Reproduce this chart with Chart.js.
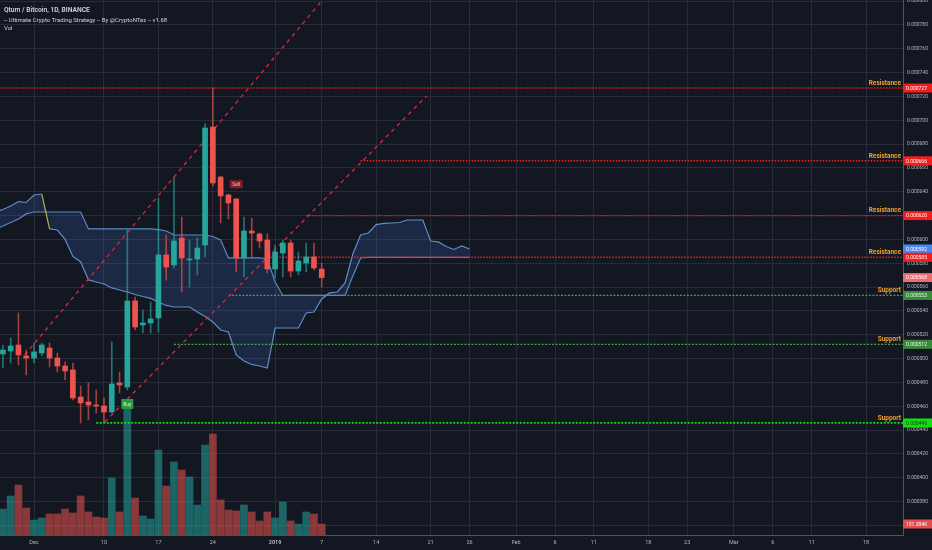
<!DOCTYPE html>
<html>
<head>
<meta charset="utf-8">
<title>Qtum / Bitcoin, 1D, BINANCE</title>
<script src="https://cdn.jsdelivr.net/npm/chart.js@4.4.1/dist/chart.umd.min.js"></script>
<style>
  html, body { margin: 0; padding: 0; background: #131722; overflow: hidden; }
  canvas { display: block; }
</style>
</head>
<body>
<canvas id="chart" width="932" height="550"></canvas>
<script>
// QTUM/BTC daily candles, day 0 = 2018-11-27. Prices are in 1e-6 BTC.
const candleDays = [0, 1, 2, 3, 4, 5, 6, 7, 8, 9, 10, 11, 12, 13, 14, 15, 16, 17, 18, 19, 20,
  21, 22, 23, 24, 25, 26, 27, 28, 29, 30, 31, 32, 33, 34, 35, 36, 37, 38, 39, 40, 41];
const openP = [503.9, 506.4, 511.4, 502.2, 500.5, 504.7, 508.9, 500.5, 493.8, 490.5, 467.8, 463.6, 461.1, 460.3,
  455.2, 479.6, 476.2, 548.4, 528.2, 529.9, 534.1, 587.0, 578.6, 601.2, 582.8, 583.6, 595.3, 694.3, 652.4, 637.3,
  633.9, 584.4, 607.1, 604.6, 599.5, 575.2, 588.6, 597.0, 573.5, 580.2, 585.3, 575.2];
const highP = [511.4, 517.3, 538.3, 507.2, 513.1, 513.1, 513.1, 504.7, 497.2, 496.3, 477.0, 479.6, 473.7, 467.0,
  514.0, 488.8, 607.9, 551.7, 540.8, 547.5, 634.8, 603.7, 652.4, 618.8, 599.5, 601.2, 696.9, 727.0, 653.0, 638.0,
  634.5, 618.8, 618.0, 605.4, 604.6, 595.3, 599.5, 599.5, 589.5, 597.0, 597.0, 580.2];
const lowP = [492.1, 496.3, 494.7, 486.3, 496.3, 502.2, 493.0, 488.8, 482.1, 465.3, 446.0, 448.5, 454.4, 446.8,
  454.4, 471.2, 473.7, 524.0, 521.5, 521.5, 522.3, 566.0, 576.0, 555.9, 560.1, 570.2, 585.3, 645.0, 613.8, 617.2,
  572.7, 568.5, 585.3, 592.8, 571.9, 567.7, 568.5, 568.5, 570.2, 572.7, 574.4, 560.1];
const closeP = [507.2, 510.6, 503.1, 500.5, 505.6, 511.4, 500.5, 493.8, 489.6, 467.0, 462.8, 461.1, 460.3, 455.2,
  478.7, 477.9, 548.4, 526.5, 529.9, 533.3, 587.0, 576.9, 598.7, 584.4, 583.6, 592.8, 693.5, 647.4, 636.5, 630.6,
  584.4, 607.1, 605.4, 598.7, 575.2, 589.5, 597.0, 573.5, 581.9, 585.3, 576.0, 568.0];
// volume in thousands
const volumeK = [310, 466, 597, 322, 179, 203, 251, 251, 310, 263, 466, 275, 215, 203, 681, 275, 1552, 442, 227,
  191, 1015, 585, 872, 776, 693, 358, 1075, 1206, 418, 299, 287, 358, 275, 167, 275, 203, 394, 167, 131, 275, 251,
  131.384];

// Ichimoku cloud (already shifted forward)
const cloudDays = [-1, 0, 1, 2, 3, 4, 5, 6, 7, 8, 9, 10, 11, 12, 13, 14, 15, 16, 17, 18, 19, 20, 21, 22, 23, 24,
  25, 26, 27, 28, 29, 30, 31, 32, 33, 34, 35, 36, 37, 38, 39, 40, 41, 42, 43, 44, 45, 46, 47, 48, 49, 50, 51, 52,
  53, 54, 55, 56, 57, 58, 59, 60];
const spanA = [623.0, 625.1, 628.1, 631.8, 631.0, 637.3, 638.1, 608.8, 607.9, 600.0, 585.7, 581.1, 566.0, 564.3,
  562.6, 559.3, 557.6, 555.9, 553.8, 552.1, 550.5, 547.5, 544.6, 543.3, 543.3, 543.3, 539.1, 535.4, 530.7, 524.0,
  522.3, 503.1, 498.0, 495.1, 493.8, 492.1, 525.7, 525.7, 525.7, 525.7, 538.3, 539.1, 550.0, 555.1, 555.9, 563.5,
  587.8, 603.7, 605.4, 612.5, 613.4, 613.8, 614.2, 616.3, 616.3, 616.3, 598.7, 597.9, 594.1, 591.6, 594.5, 592.0];
const spanB = [608.8, 611.3, 614.2, 617.2, 621.4, 623.0, 623.0, 623.0, 623.0, 623.0, 623.0, 623.0, 608.8, 608.8,
  608.8, 608.8, 608.8, 608.8, 608.8, 608.8, 608.8, 608.3, 607.1, 603.7, 603.7, 603.7, 603.7, 603.7, 602.5, 599.5,
  584.5, 584.5, 584.5, 584.5, 584.5, 583.6, 564.3, 553.0, 553.0, 553.0, 553.0, 553.0, 553.0, 553.0, 553.0, 553.0,
  569.3, 584.4, 585.0, 585.0, 585.0, 585.0, 585.0, 585.0, 585.0, 585.0, 585.0, 585.0, 585.0, 585.0, 585.0, 585.0];
const twistDay = 5;

// horizontal levels and the day each one starts
const resistancePrices = [727, 666, 620, 585];
const resistanceFromDay = [-1, 46, 39, 34];
const supportPrices = [553, 512, 446];
const supportFromDay = [29, 22, 12];

// trend lines: [day, price] pairs
const trendLine1 = [[2.8, 503], [41.5, 804]];
const trendLine2 = [[13.1, 446.8], [54.5, 720.4]];

// strategy signals (candle day)
const buyDays = [16];
const sellDays = [30];

// axes
const priceTicks = [360, 380, 400, 420, 440, 460, 480, 500, 520, 540, 560, 580, 600, 620, 640, 660, 680, 700,
  720, 740, 760, 780, 800];
const dateTickDays = [4, 13, 20, 27, 35, 41, 48, 55, 60, 66, 71, 76, 83, 88, 94, 99, 104, 111];
const dateTickLabels = ["Dec", "10", "17", "24", "2019", "7", "14", "21", "26", "Feb", "6", "11", "18", "23",
  "Mar", "6", "11", "18"];

const X_MIN = -0.373, X_MAX = 115.75;
const Y_MIN = 352.0, Y_MAX = 800.9;
const VOL_MAX = 6390;

const FONT = "Roboto, 'Liberation Sans', sans-serif";
const TEXT = "#b2b5be";
const GRID = "#282c38";
const AXIS_LINE = "#50535e";
const TEAL = "#26a69a";
const RED = "#ef5350";
const CLOUD = "rgba(104,152,214,0.9)";
const CLOUD_FILL = "rgba(64,110,190,0.22)";
const LEVEL_RED = "#f01e1e";
const LEVEL_GREEN = "#43a047";
const LEVEL_GREEN_MAJOR = "#19d619";
const LEVEL_TEXT = "#f0a030";

const isUp = closeP.map((c, k) => c >= openP[k]);

function levelDataset(price, fromDay, color, width, dash) {
  return {
    type: "line",
    data: [{ x: fromDay, y: price }, { x: X_MAX + 1, y: price }],
    borderColor: color,
    borderWidth: width,
    borderDash: dash,
    pointRadius: 0,
    fill: false,
    order: 5,
  };
}

function trendDataset(points) {
  return {
    type: "line",
    data: points.map((p) => ({ x: p[0], y: p[1] })),
    borderColor: "#d8283a",
    borderWidth: 1.3,
    borderDash: [4, 4],
    pointRadius: 0,
    fill: false,
    order: 4,
  };
}

const datasets = [
  {
    type: "bar",
    yAxisID: "yv",
    data: candleDays.map((d, k) => ({ x: d, y: volumeK[k] })),
    backgroundColor: isUp.map((u) => (u ? "rgba(38,166,154,0.55)" : "rgba(239,83,80,0.55)")),
    barThickness: 7,
    grouped: false,
    order: 20,
  },
  {
    type: "line",
    data: cloudDays.map((d, k) => ({ x: d, y: spanA[k] })),
    borderColor: CLOUD,
    borderWidth: 1.2,
    pointRadius: 0,
    fill: "+1",
    backgroundColor: CLOUD_FILL,
    segment: {
      borderColor: (c) => (cloudDays[c.p0DataIndex] === twistDay ? "#b4b04a" : undefined),
    },
    order: 15,
  },
  {
    type: "line",
    data: cloudDays.map((d, k) => ({ x: d, y: spanB[k] })),
    borderColor: CLOUD,
    borderWidth: 1.2,
    pointRadius: 0,
    fill: false,
    order: 15,
  },
];

resistancePrices.forEach((p, k) => datasets.push(levelDataset(p, resistanceFromDay[k], LEVEL_RED, 1.4, [1.5, 1.5])));
supportPrices.forEach((p, k) => {
  const major = k === supportPrices.length - 1;
  datasets.push(levelDataset(p, supportFromDay[k], major ? LEVEL_GREEN_MAJOR : LEVEL_GREEN, major ? 1.8 : 1.2, [2, 1.5]));
});
datasets.push(trendDataset(trendLine1));
datasets.push(trendDataset(trendLine2));

// candle wicks and bodies as floating bars
datasets.push({
  type: "bar",
  data: candleDays.map((d, k) => ({ x: d, y: [lowP[k], highP[k]] })),
  backgroundColor: isUp.map((u) => (u ? "rgba(38,166,154,0.65)" : "rgba(239,83,80,0.65)")),
  barThickness: 1,
  grouped: false,
  order: 2,
});
datasets.push({
  type: "bar",
  data: candleDays.map((d, k) => ({ x: d, y: [openP[k], closeP[k]] })),
  backgroundColor: isUp.map((u) => (u ? TEAL : RED)),
  barThickness: 5,
  minBarLength: 1,
  grouped: false,
  order: 1,
});

function fmtPrice(v) {
  return (v / 1e6).toFixed(6);
}

function drawSignal(ctx, cx, cy, text, w, h, bg, fg) {
  ctx.fillStyle = bg;
  ctx.fillRect(cx - w / 2, cy - h / 2, w, h);
  ctx.fillStyle = fg;
  ctx.font = "5px " + FONT;
  ctx.textAlign = "center";
  ctx.textBaseline = "middle";
  ctx.fillText(text, cx, cy + 0.5);
}

function drawAxisTag(ctx, area, y, text, bg, fg) {
  ctx.fillStyle = bg;
  ctx.fillRect(area.right, y - 4.5, 29, 9);
  ctx.fillStyle = fg;
  ctx.font = "5px " + FONT;
  ctx.textAlign = "left";
  ctx.textBaseline = "middle";
  ctx.fillText(text, area.right + 3, y + 0.5);
}

const overlayPlugin = {
  id: "overlay",
  beforeDraw(chart) {
    const { ctx, width, height } = chart;
    ctx.save();
    ctx.fillStyle = "#131722";
    ctx.fillRect(0, 0, width, height);
    ctx.restore();
  },
  afterDatasetsDraw(chart) {
    const { ctx, chartArea, scales } = chart;
    const x = scales.x, y = scales.y;
    ctx.save();
    ctx.beginPath();
    ctx.rect(chartArea.left, chartArea.top, chartArea.width, chartArea.height);
    ctx.clip();

    // level names
    ctx.font = "bold 6.5px " + FONT;
    ctx.textAlign = "right";
    ctx.textBaseline = "bottom";
    ctx.fillStyle = LEVEL_TEXT;
    resistancePrices.forEach((p) => ctx.fillText("Resistance", chartArea.right - 2, y.getPixelForValue(p) - 1.5));
    supportPrices.forEach((p) => ctx.fillText("Support", chartArea.right - 2, y.getPixelForValue(p) - 1.5));

    // strategy labels
    buyDays.forEach((d) => {
      const k = candleDays.indexOf(d);
      drawSignal(ctx, x.getPixelForValue(d), y.getPixelForValue(lowP[k]) + 14, "Buy", 12, 10, "#2e9a3c", "#d6f0d6");
    });
    sellDays.forEach((d) => {
      const k = candleDays.indexOf(d);
      drawSignal(ctx, x.getPixelForValue(d), y.getPixelForValue(highP[k]) - 14, "Sell", 13, 8, "#861d2a", "#f4b8b8");
    });
    ctx.restore();
  },
  afterDraw(chart) {
    const { ctx, chartArea, scales } = chart;
    const y = scales.y;
    ctx.save();

    // header
    ctx.fillStyle = "#d1d4dc";
    ctx.textAlign = "left";
    ctx.textBaseline = "middle";
    ctx.font = "600 6.7px " + FONT;
    ctx.fillText("Qtum / Bitcoin, 1D, BINANCE", 4, 10);
    ctx.font = "6px " + FONT;
    ctx.fillText("-- Ultimate Crypto Trading Strategy -- By @CryptoNTez -- v1.68", 4, 20);
    ctx.fillText("Vol", 4, 28.5);

    // price scale tags
    drawAxisTag(ctx, chartArea, y.getPixelForValue(spanA[spanA.length - 1]), fmtPrice(spanA[spanA.length - 1]), "#4a86ef", "#ffffff");
    drawAxisTag(ctx, chartArea, y.getPixelForValue(closeP[closeP.length - 1]), fmtPrice(closeP[closeP.length - 1]), "#ee6b6f", "#ffffff");
    supportPrices.forEach((p, k) => {
      const major = k === supportPrices.length - 1;
      drawAxisTag(ctx, chartArea, y.getPixelForValue(p), fmtPrice(p), major ? "#12dc12" : "#3a8a3c", major ? "#1b3a1b" : "#e8f5e8");
    });
    resistancePrices.forEach((p) => drawAxisTag(ctx, chartArea, y.getPixelForValue(p), fmtPrice(p), "#f21d1d", "#ffffff"));
    const lastVol = volumeK[volumeK.length - 1];
    drawAxisTag(ctx, chartArea, scales.yv.getPixelForValue(lastVol), lastVol.toFixed(3) + "K", "#e24c4c", "#ffffff");
    ctx.restore();
  },
};

new Chart(document.getElementById("chart"), {
  type: "bar",
  data: { datasets },
  plugins: [overlayPlugin],
  options: {
    responsive: false,
    animation: false,
    layout: { padding: 0 },
    plugins: { legend: { display: false }, tooltip: { enabled: false } },
    scales: {
      x: {
        type: "linear",
        min: X_MIN,
        max: X_MAX,
        offset: false,
        grid: { color: GRID, drawTicks: false, offset: false },
        border: { color: AXIS_LINE },
        afterBuildTicks: (s) => {
          s.ticks = dateTickDays.map((v) => ({ value: v }));
        },
        ticks: {
          autoSkip: false,
          maxRotation: 0,
          padding: 4,
          color: TEXT,
          font: (c) => ({ family: FONT, size: 5.5, weight: dateTickLabels[c.index] === "2019" ? "bold" : "normal" }),
          callback: (v, i) => dateTickLabels[i],
        },
        afterFit: (s) => {
          s.height = 15;
          s.paddingLeft = 0;
          s.paddingRight = 0;
        },
      },
      y: {
        position: "right",
        min: Y_MIN,
        max: Y_MAX,
        grid: { color: GRID, drawTicks: false },
        border: { color: AXIS_LINE },
        afterBuildTicks: (s) => {
          s.ticks = priceTicks.map((v) => ({ value: v }));
        },
        ticks: { padding: 4, color: TEXT, font: { family: FONT, size: 5 }, callback: (v) => fmtPrice(v) },
        afterFit: (s) => {
          s.width = 29;
          s.paddingTop = 0;
          s.paddingBottom = 0;
        },
      },
      yv: { display: false, min: 0, max: VOL_MAX },
    },
  },
});
</script>
</body>
</html>
